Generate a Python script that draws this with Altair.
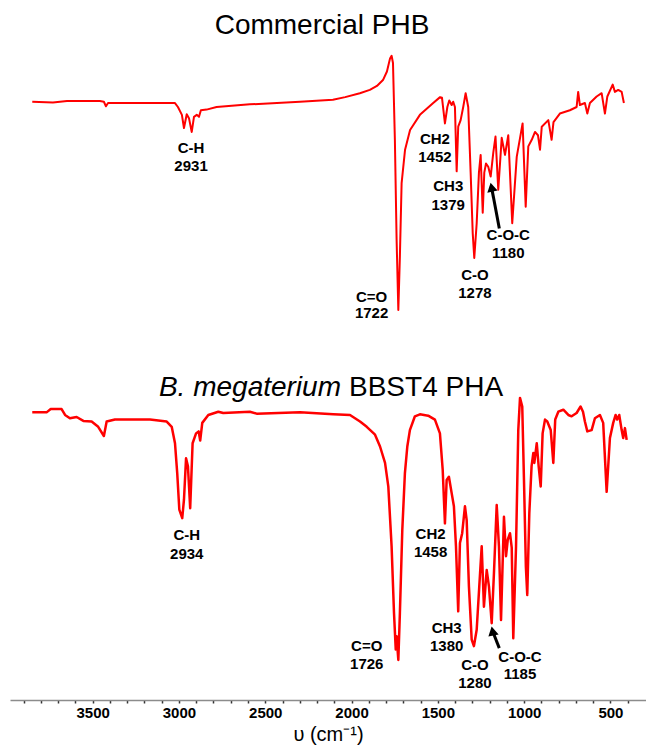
import altair as alt
import pandas as pd

# ---------------- spectrum data (wavenumber cm-1, offset transmittance a.u.) ----------------
phb_wn = [3850, 3730, 3649, 3458, 3435, 3423, 3411, 3226, 3023, 3006, 2983, 2971, 2955, 2942,
          2926, 2913, 2897, 2884, 2873, 2840, 2782, 2589, 2299, 2108, 2037, 1952, 1894, 1853, 1818, 1795,
          1777, 1768, 1760, 1749, 1739, 1729, 1720, 1710, 1690, 1661, 1604, 1527, 1487, 1476,
          1459, 1445, 1434, 1420, 1411, 1401, 1391, 1382, 1368, 1353, 1339, 1324, 1310, 1298,
          1289, 1275, 1262, 1252, 1240, 1231, 1221, 1208, 1194, 1179, 1166, 1150, 1130, 1111,
          1092, 1069, 1043, 1009, 991, 976, 956, 937, 920, 908, 898, 860, 841, 830, 793, 735,
          696, 687, 677, 648, 634, 619, 580, 551, 532, 518, 487, 474, 455, 435, 422]
phb_t = [90.6, 90.5, 90.7, 90.7, 90.6, 89.9, 90.4, 90.4, 90.4, 89.8, 88.6, 86.6, 88.7, 88.1,
         86.0, 88.3, 88.6, 88.3, 89.3, 89.4, 89.8, 90.2, 90.6, 90.9, 91.3, 91.9, 92.4, 93.0, 93.9, 95.2,
         97.2, 97.6, 96.5, 84.8, 69.6, 58.9, 67.0, 78.2, 83.3, 86.3, 88.6, 90.4, 91.3, 91.2,
         87.3, 89.8, 90.8, 90.1, 90.6, 89.8, 80.0, 86.8, 87.8, 89.8, 91.9, 89.8, 79.8, 70.6,
         66.8, 72.1, 79.8, 82.5, 73.7, 79.8, 81.2, 80.7, 79.2, 82.8, 85.3, 77.2, 85.1, 82.5,
         85.5, 72.1, 82.2, 87.3, 74.6, 83.8, 84.8, 86.0, 85.5, 83.3, 86.8, 87.8, 84.8, 87.5,
         88.8, 89.3, 89.8, 92.1, 90.1, 90.4, 88.8, 90.4, 91.4, 91.9, 88.8, 91.4, 93.2, 92.1,
         92.4, 92.1, 90.4]

pha_wn = [3850, 3767, 3743, 3680, 3660, 3632, 3593, 3554, 3506, 3468, 3435, 3419, 3371, 3168,
          3071, 3042, 3023, 3010, 2998, 2981, 2971, 2959, 2948, 2935, 2921, 2901, 2886, 2877,
          2865, 2830, 2772, 2743, 2589, 2550, 2299, 2106, 2009, 1951, 1912, 1864, 1835, 1806,
          1787, 1768, 1754, 1744, 1739, 1729, 1720, 1706, 1691, 1677, 1662, 1633, 1604, 1556,
          1517, 1488, 1472, 1459, 1449, 1436, 1420, 1407, 1395, 1382, 1372, 1359, 1343, 1333,
          1320, 1304, 1291, 1275, 1260, 1246, 1233, 1217, 1204, 1188, 1175, 1159, 1146, 1134,
          1117, 1105, 1095, 1082, 1072, 1063, 1047, 1034, 1024, 1011, 1001, 990, 982, 970, 957,
          947, 941, 927, 916, 904, 893, 879, 866, 846, 831, 820, 802, 773, 744, 725, 696, 673,
          659, 648, 634, 609, 590, 561, 542, 522, 503, 484, 470, 461, 449, 435, 426, 416, 406]
pha_t = [43.3, 43.3, 43.8, 43.8, 42.9, 42.4, 42.6, 42.0, 41.9, 41.1, 39.7, 41.9, 42.2, 42.2,
         41.9, 41.1, 38.6, 34.0, 28.5, 27.2, 30.0, 36.3, 35.1, 28.7, 38.6, 40.1, 40.4, 39.0,
         41.7, 42.9, 43.4, 43.2, 43.4, 43.1, 43.3, 43.0, 42.9, 41.9, 41.1, 39.9, 38.1, 35.6,
         32.0, 22.9, 12.7, 7.2, 9.2, 5.6, 12.7, 25.4, 34.0, 38.1, 40.6, 42.7, 43.0, 42.8,
         42.2, 40.1, 34.6, 26.4, 33.0, 33.5, 31.0, 29.0, 22.9, 13.0, 23.4, 24.9, 29.0, 26.9,
         16.8, 8.7, 7.7, 10.2, 16.8, 22.9, 13.7, 19.3, 16.8, 11.2, 18.8, 29.2, 22.9, 11.7,
         27.4, 21.4, 23.9, 24.9, 22.7, 8.9, 22.9, 40.6, 45.5, 44.2, 33.0, 19.8, 15.5, 28.0, 35.1,
         37.1, 35.6, 38.6, 35.1, 32.0, 40.1, 42.2, 41.9, 40.6, 35.6, 42.2, 43.4, 43.7, 42.9, 42.7,
         43.2, 44.2, 43.4, 41.9, 40.4, 40.6, 42.4, 42.9, 41.7, 31.2, 39.4, 41.7, 42.9, 42.2,
         42.9, 40.6, 39.4, 40.9, 39.1]

# ---------------- peak annotations ----------------
lab_text = ["C-H", "2931", "C=O", "1722", "CH2", "1452", "CH3", "1379", "C-O", "1278", "C-O-C", "1180",
            "C-H", "2934", "C=O", "1726", "CH2", "1458", "CH3", "1380", "C-O", "1280", "C-O-C", "1185"]
lab_wn = [2930, 2930, 1884, 1884, 1517, 1517, 1440, 1440, 1285, 1285, 1092, 1092,
          2955, 2955, 1912, 1912, 1542, 1542, 1449, 1449, 1285, 1285, 1024, 1024]
lab_t = [83.6, 80.8, 60.9, 58.4, 85.0, 82.2, 77.8, 74.9, 64.2, 61.4, 70.3, 67.5,
         24.6, 21.8, 7.7, 5.0, 24.8, 22.1, 10.5, 7.7, 4.9, 2.1, 6.1, 3.4]

# arrows pointing at the C-O-C bands (tail -> head)
arrow_tail_wn = [1144, 1144]
arrow_tail_t = [71.3, 7.4]
arrow_head_wn = [1189, 1183]
arrow_head_t = [77.6, 10.0]

title_top = "Commercial PHB"
title_bottom_italic = "B. megaterium"
title_bottom_rest = "BBST4 PHA"

tick_values = list(range(400, 4000, 100))

# ---------------- tables ----------------
phb = pd.DataFrame({"wn": phb_wn, "t": phb_t, "i": range(len(phb_wn))})
pha = pd.DataFrame({"wn": pha_wn, "t": pha_t, "i": range(len(pha_wn))})
labels = pd.DataFrame({"wn": lab_wn, "t": lab_t, "txt": lab_text})
arrows = pd.DataFrame({"wn": arrow_tail_wn, "t": arrow_tail_t,
                       "wn2": arrow_head_wn, "t2": arrow_head_t})

FONT = "Liberation Sans"
xscale = alt.Scale(domain=[294, 3979], reverse=True, nice=False, zero=False)
yscale = alt.Scale(domain=[-0.5, 100], nice=False, zero=False)
xaxis = alt.Axis(
    values=tick_values, format="d",
    labelExpr="datum.value % 500 === 0 ? datum.label : ''",
    title="υ (cm⁻¹)", titleFont=FONT, titleFontSize=20, titleFontWeight="normal",
    titleColor="black", titlePadding=4,
    labelFont=FONT, labelFontSize=15, labelFontWeight="bold", labelColor="black",
    labelPadding=2, labelFlush=False, labelOverlap=False,
    tickColor="#333333", tickSize=3, tickWidth=1.5,
    domainColor="#8c8c8c", domainWidth=1.5, grid=False,
)
X = alt.X("wn:Q", scale=xscale, axis=xaxis)
Y = alt.Y("t:Q", scale=yscale, axis=None)

line_top = alt.Chart(phb).mark_line(color="#ff0000", strokeWidth=2, strokeJoin="round").encode(
    x=X, y=Y, order="i:Q")
line_bot = alt.Chart(pha).mark_line(color="#ff0000", strokeWidth=2.5, strokeJoin="round").encode(
    x=X, y=Y, order="i:Q")

text = alt.Chart(labels).mark_text(
    font=FONT, fontSize=15, fontWeight="bold", color="black", align="center", baseline="middle"
).encode(x=X, y=Y, text="txt:N")

shaft = alt.Chart(arrows).mark_rule(color="black", strokeWidth=3).encode(
    x=X, y=Y, x2="wn2:Q", y2="t2:Q")
head = alt.Chart(arrows).mark_point(
    shape="triangle-up", filled=True, color="black", size=110, angle=348, opacity=1
).encode(x=alt.X("wn2:Q", scale=xscale, axis=xaxis), y=alt.Y("t2:Q", scale=yscale, axis=None))

t_df = pd.DataFrame({"a": [title_top], "b": [title_bottom_italic], "c": [title_bottom_rest]})
title1 = alt.Chart(t_df).mark_text(font=FONT, fontSize=28, align="center", baseline="alphabetic",
                                   color="black").encode(
    x=alt.value(312), y=alt.value(-6), text="a:N")
title2a = alt.Chart(t_df).mark_text(font=FONT, fontSize=28, fontStyle="italic", align="right",
                                    baseline="alphabetic", color="black").encode(
    x=alt.value(331), y=alt.value(356), text="b:N")
title2b = alt.Chart(t_df).mark_text(font=FONT, fontSize=28, align="left",
                                    baseline="alphabetic", color="black").encode(
    x=alt.value(339), y=alt.value(356), text="c:N")

chart = alt.layer(line_top, line_bot, shaft, head, text, title1, title2a, title2b).properties(
    width=636, height=660,
    padding={"left": 10, "top": 40, "right": 0, "bottom": 46},
    autosize=alt.AutoSizeParams(type="none"),
    background="white",
).configure_view(stroke=None)

chart.save("out.html", embed_options={"renderer": "svg", "actions": False})
